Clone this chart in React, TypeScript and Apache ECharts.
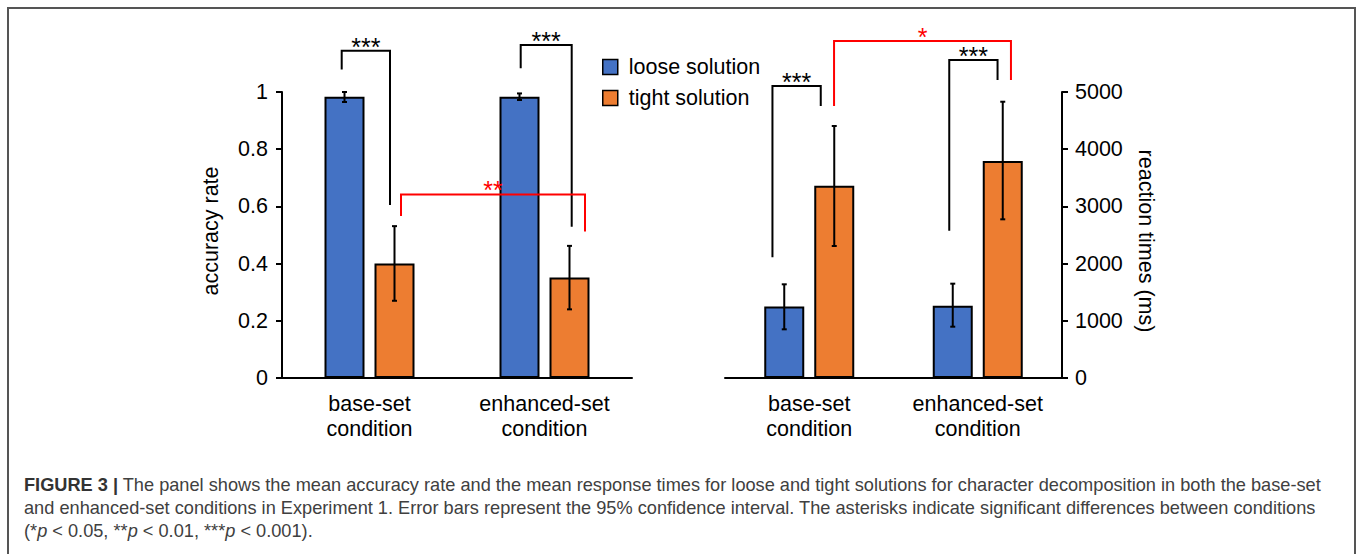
import React, { useEffect, useRef } from 'react';
import * as echarts from 'echarts';

// ---------- data ----------
const categories = ['base-set\ncondition', 'enhanced-set\ncondition'];
const seriesNames = ['loose solution', 'tight solution'];

const accuracyLoose = [0.983, 0.983];
const accuracyLooseLow = [0.965, 0.972];
const accuracyLooseHigh = [1.0, 0.995];
const accuracyTight = [0.4, 0.351];
const accuracyTightLow = [0.27, 0.24];
const accuracyTightHigh = [0.531, 0.462];

const rtLoose = [1250, 1265];
const rtLooseLow = [851, 897];
const rtLooseHigh = [1638, 1649];
const rtTight = [3360, 3795];
const rtTightLow = [2308, 2774];
const rtTightHigh = [4406, 4830];

// significance brackets: [left category, right category]
const accuracyBracketSpans = [[0, 0], [1, 1], [0, 1]];
// [left foot, top, right foot] in axis units
const accuracyBracketLevels = [[1.079, 1.144, 0.605], [1.083, 1.164, 0.529], [0.566, 0.642, 0.512]];
const accuracyBracketLabels = ['***', '***', '**'];

const rtBracketSpans = [[0, 0], [1, 1], [0, 1]];
const rtBracketLevels = [[2110, 5105, 4755], [2575, 5559, 5210], [4755, 5892, 5210]];
const rtBracketLabels = ['***', '***', '*'];

const captionLines = [
  '{b|FIGURE 3 |} The panel shows the mean accuracy rate and the mean response times for loose and tight solutions for character decomposition in both the base-set',
  'and enhanced-set conditions in Experiment 1. Error bars represent the 95% confidence interval. The asterisks indicate significant differences between conditions',
  '(*{i|p} < 0.05, **{i|p} < 0.01, ***{i|p} < 0.001).',
];

// ---------- layout / style ----------
const FONT = "'Liberation Sans', Arial, sans-serif";
const BAR_W = 40;
const BAR_GAP = 0.25;
const OFFSET = (BAR_W * (1 + BAR_GAP)) / 2;
const BLUE = '#4472C4';
const ORANGE = '#ED7D31';
const FS = 21.5;
const CAP_FS = 18.2;
const CAP_COLOR = '#404040';
const captionY = [485, 508, 531];
const accuracyBracketDx = [[-27.8, 20.5], [-23.8, 27.2], [31.5, 40.5]];
const accuracyBracketColors = ['#000', '#000', '#ff0000'];
const rtBracketDx = [[-36.8, 11.5], [-28.5, 19.8], [24.8, 33.2]];
const rtBracketColors = ['#000', '#000', '#ff0000'];

function errorBarSeries(xi: number, yi: number, lows: number[], highs: number[], offset: number) {
  return {
    type: 'custom',
    xAxisIndex: xi,
    yAxisIndex: yi,
    clip: false,
    silent: true,
    z: 5,
    data: lows.map((l, i) => [i, l, highs[i]]),
    encode: { x: 0, y: [1, 2] },
    renderItem: (params: any, api: any) => {
      const cat = api.value(0);
      const lo = api.coord([cat, api.value(1)]);
      const hi = api.coord([cat, api.value(2)]);
      const x = lo[0] + offset;
      const cap = 2.5;
      const st = { stroke: '#000', lineWidth: 2 };
      return {
        type: 'group',
        children: [
          { type: 'line', shape: { x1: x, y1: lo[1], x2: x, y2: hi[1] }, style: st },
          { type: 'line', shape: { x1: x - cap, y1: lo[1], x2: x + cap, y2: lo[1] }, style: st },
          { type: 'line', shape: { x1: x - cap, y1: hi[1], x2: x + cap, y2: hi[1] }, style: st },
        ],
      };
    },
  };
}

function bracketSeries(
  xi: number,
  yi: number,
  spans: number[][],
  levels: number[][],
  dx: number[][],
  labels: string[],
  colors: string[]
) {
  return {
    type: 'custom',
    xAxisIndex: xi,
    yAxisIndex: yi,
    clip: false,
    silent: true,
    z: 6,
    data: spans.map((s, i) => [s[0], s[1], levels[i][0], levels[i][1], levels[i][2]]),
    encode: { x: [0, 1], y: [2, 3, 4] },
    renderItem: (params: any, api: any) => {
      const i = params.dataIndex;
      const a = api.coord([api.value(0), api.value(2)]);
      const t = api.coord([api.value(0), api.value(3)]);
      const b = api.coord([api.value(1), api.value(4)]);
      const xa = a[0] + dx[i][0];
      const xb = b[0] + dx[i][1];
      return {
        type: 'group',
        children: [
          {
            type: 'polyline',
            shape: { points: [[xa, a[1]], [xa, t[1]], [xb, t[1]], [xb, b[1]]] },
            style: { stroke: colors[i], lineWidth: 2, fill: 'none' },
          },
          {
            type: 'text',
            style: {
              text: labels[i],
              x: (xa + xb) / 2,
              y: t[1] - 4,
              fill: colors[i],
              fontSize: 25,
              fontFamily: FONT,
              align: 'center',
              verticalAlign: 'middle',
            },
          },
        ],
      };
    },
  };
}

const axisLineStyle = { color: '#000', width: 2 };

function xAxis(gridIndex: number) {
  return {
    type: 'category',
    gridIndex,
    data: categories,
    axisLine: { show: true, lineStyle: axisLineStyle },
    axisTick: { show: false },
    axisLabel: { interval: 0, fontSize: FS, lineHeight: 25, color: '#000', fontFamily: FONT, margin: 13 },
  };
}

export default function App() {
  const ref = useRef<HTMLDivElement>(null);
  useEffect(() => {
    if (!ref.current) return;
    const chart = echarts.init(ref.current, undefined, { renderer: 'svg' });
    const option: any = {
      animation: false,
      backgroundColor: '#fff',
      grid: [
        { left: 282, top: 92, width: 350, height: 286 },
        { left: 725, top: 92, width: 337, height: 286 },
      ],
      legend: {
        data: seriesNames,
        orient: 'vertical',
        left: 602,
        top: 56,
        padding: 0,
        itemWidth: 15,
        itemHeight: 15,
        itemGap: 9,
        icon: 'rect',
        itemStyle: { borderColor: '#000', borderWidth: 1.5 },
        textStyle: { fontSize: FS, fontFamily: FONT, color: '#000', padding: [0, 0, 0, 6] },
      },
      xAxis: [xAxis(0), xAxis(1)],
      yAxis: [
        {
          type: 'value',
          gridIndex: 0,
          min: 0,
          max: 1,
          interval: 0.2,
          axisLine: { show: true, lineStyle: axisLineStyle },
          axisTick: { show: true, length: 6, lineStyle: axisLineStyle },
          splitLine: { show: false },
          axisLabel: { fontSize: FS, color: '#000', fontFamily: FONT, margin: 14 },
          name: 'accuracy rate',
          nameLocation: 'middle',
          nameGap: 60,
          nameTextStyle: { fontSize: FS, color: '#000', fontFamily: FONT, padding: [0, 0, 0, 8] },
        },
        {
          type: 'value',
          gridIndex: 1,
          position: 'right',
          min: 0,
          max: 5000,
          interval: 1000,
          axisLine: { show: true, lineStyle: axisLineStyle },
          axisTick: { show: true, length: 6, lineStyle: axisLineStyle },
          splitLine: { show: false },
          axisLabel: {
            fontSize: FS,
            color: '#000',
            fontFamily: FONT,
            margin: 13,
            formatter: (v: number) => String(v),
          },
          name: 'reaction times (ms)',
          nameLocation: 'middle',
          nameRotate: -90,
          nameGap: 73,
          nameTextStyle: { fontSize: FS, color: '#000', fontFamily: FONT, padding: [0, 0, 0, 12] },
        },
      ],
      series: [
        {
          type: 'bar', name: seriesNames[0], xAxisIndex: 0, yAxisIndex: 0, data: accuracyLoose,
          barWidth: BAR_W, barGap: '25%',
          itemStyle: { color: BLUE, borderColor: '#000', borderWidth: 2 },
        },
        {
          type: 'bar', name: seriesNames[1], xAxisIndex: 0, yAxisIndex: 0, data: accuracyTight,
          barWidth: BAR_W, barGap: '25%',
          itemStyle: { color: ORANGE, borderColor: '#000', borderWidth: 2 },
        },
        {
          type: 'bar', name: seriesNames[0], xAxisIndex: 1, yAxisIndex: 1, data: rtLoose,
          barWidth: BAR_W, barGap: '25%',
          itemStyle: { color: BLUE, borderColor: '#000', borderWidth: 2 },
        },
        {
          type: 'bar', name: seriesNames[1], xAxisIndex: 1, yAxisIndex: 1, data: rtTight,
          barWidth: BAR_W, barGap: '25%',
          itemStyle: { color: ORANGE, borderColor: '#000', borderWidth: 2 },
        },
        errorBarSeries(0, 0, accuracyLooseLow, accuracyLooseHigh, -OFFSET),
        errorBarSeries(0, 0, accuracyTightLow, accuracyTightHigh, OFFSET),
        errorBarSeries(1, 1, rtLooseLow, rtLooseHigh, -OFFSET),
        errorBarSeries(1, 1, rtTightLow, rtTightHigh, OFFSET),
        bracketSeries(0, 0, accuracyBracketSpans, accuracyBracketLevels, accuracyBracketDx, accuracyBracketLabels, accuracyBracketColors),
        bracketSeries(1, 1, rtBracketSpans, rtBracketLevels, rtBracketDx, rtBracketLabels, rtBracketColors),
      ],
      graphic: [
        {
          type: 'rect',
          silent: true,
          shape: { x: 8, y: 8, width: 1347, height: 600 },
          style: { fill: 'none', stroke: '#555', lineWidth: 2 },
        },
        ...captionLines.map((line, k) => ({
          type: 'text',
          silent: true,
          x: 24,
          y: captionY[k],
          style: {
            text: line,
            fill: CAP_COLOR,
            fontSize: CAP_FS,
            fontFamily: FONT,
            align: 'left',
            verticalAlign: 'middle',
            rich: {
              b: { fontWeight: 'bold', fontSize: CAP_FS, fontFamily: FONT, fill: '#333' },
              i: { fontStyle: 'italic', fontSize: CAP_FS, fontFamily: FONT, fill: CAP_COLOR },
            },
          },
        })),
      ],
    };
    chart.setOption(option);
    return () => chart.dispose();
  }, []);
  return (
    <div
      ref={ref}
      style={{ position: 'absolute', left: 0, top: 0, width: 1357, height: 554 }}
    />
  );
}
